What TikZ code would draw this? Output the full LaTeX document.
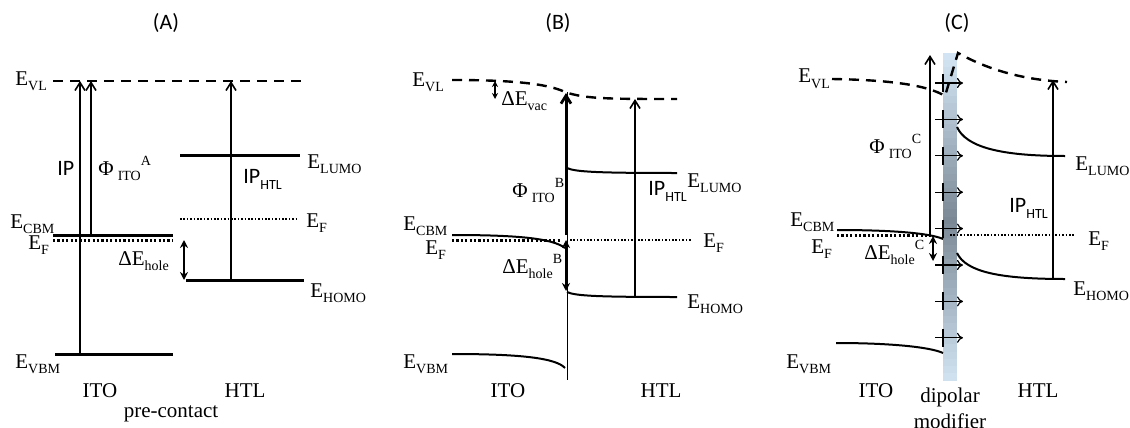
\documentclass[tikz,border=0pt]{standalone}
\usepackage{fontspec}
\setmainfont{Liberation Serif}
\newfontfamily\calib{Carlito}
\usetikzlibrary{arrows.meta,positioning}
\definecolor{barblue}{HTML}{D2E4F3}
\definecolor{bargrey}{HTML}{7A8794}
\newcommand\lowtxt[1]{\raisebox{-0.6ex}{\fontsize{7}{7}\selectfont #1}}
\newcommand\hightxt[1]{\raisebox{1ex}{\fontsize{7}{7}\selectfont #1}}
\tikzset{
  level/.style={line width=1.5pt},
  band/.style={line width=1pt},
  vac/.style={line width=1.2pt,dash pattern=on 5pt off 3.5pt},
  fermi/.style={line width=1.5pt,dash pattern=on 1.1pt off 1.1pt},
  fermithin/.style={line width=0.6pt,dash pattern=on 0.8pt off 0.9pt},
  rise/.style={-{Straight Barb[length=4pt,width=5pt]},line width=0.8pt},
  gap/.style={{Stealth[length=4pt,width=4pt]}-{Stealth[length=4pt,width=4pt]},line width=1pt},
  dipole/.style={-{To[length=3pt,width=5pt]},line width=0.6pt},
  lbl/.style={inner sep=0pt,anchor=base west,font=\fontsize{10.5}{12}\selectfont},
  sanslbl/.style={lbl,font=\calib\fontsize{11}{12}\selectfont},
  side/.style={inner sep=0pt,anchor=base,font=\fontsize{10.5}{12}\selectfont},
  ttl/.style={inner sep=0pt,font=\calib\fontsize{11}{13}\selectfont}
}
\begin{document}
\begin{tikzpicture}[x=0.5pt,y=-0.5pt]
  \useasboundingbox (0,0) rectangle (1130,428);
  % panel titles
  \node[ttl] (ttlA) at (166,23) {(A)};
  \node[ttl] (ttlB) at (558,23) {(B)};
  \node[ttl] (ttlC) at (957,23) {(C)};

  % (A) pre-contact
  \draw[vac] (53,81) -- (307,81);
  \draw[level] (53,235) -- (173,235);
  \draw[fermi] (53,240) -- (173,240);
  \draw[level] (55,354) -- (173,354);
  \draw[level] (180,155) -- (300,155);
  \draw[fermithin] (180,219) -- (298,219);
  \draw[level] (186,280) -- (304,280);
  \coordinate (ipA0) at (80,354);  \coordinate (ipA1) at (80,81);
  \coordinate (phA0) at (91,235);  \coordinate (phA1) at (91,81);
  \coordinate (htA0) at (231,280); \coordinate (htA1) at (231,81);
  \coordinate (hoA0) at (184,240); \coordinate (hoA1) at (184,280);
  \draw[rise] (ipA0) -- (ipA1);
  \draw[rise] (phA0) -- (phA1);
  \draw[rise] (htA0) -- (htA1);
  \draw[gap] (hoA0) -- (hoA1);
  \node[lbl] (vlA) at (15,85) {E\lowtxt{VL}};
  \node[lbl] (cbmA) at (10,228) {E\lowtxt{CBM}};
  \node[lbl] (efA) at (28,249) {E\lowtxt{F}};
  \node[lbl] (vbmA) at (15,368) {E\lowtxt{VBM}};
  \node[sanslbl] (ipA) at (57,175) {IP};
  \node[lbl] (phiA) at (98,175) {Φ\hspace{2pt}\lowtxt{ITO}\hightxt{A}};
  \node[lbl] (dhA) at (118,265) {ΔE\lowtxt{hole}};
  \node[lbl] (lumoA) at (307,168) {E\lowtxt{LUMO}};
  \node[sanslbl] (iphA) at (243,183) {IP\lowtxt{HTL}};
  \node[lbl] (efhA) at (306,227) {E\lowtxt{F}};
  \node[lbl] (homoA) at (310,297) {E\lowtxt{HOMO}};
  \node[side] (itoA) at (100,397) {ITO};
  \node[side] (htlA) at (245,397) {HTL};
  \node[side] (preA) at (171,417) {pre-contact};

  % (B) contact
  \draw[vac] (452,80) .. controls (515,80) and (548,84) .. (565,92)
    .. controls (585,99) and (610,99) .. (677,99);
  \draw[band] (452,235) .. controls (515,235) and (552,238) .. (565,248);
  \draw[fermi] (452,240) -- (560,240);
  \draw[fermithin] (570,240) -- (692,240);
  \draw[band] (452,354) .. controls (520,354) and (556,358) .. (565,368);
  \draw[band] (567,168) .. controls (575,172) and (600,173) .. (677,173);
  \draw[band] (567,292) .. controls (575,296) and (600,297) .. (677,297);
  \coordinate (ifB0) at (567,92);  \coordinate (ifB1) at (567,380);
  \draw[line width=0.5pt] (ifB0) -- (ifB1);
  \coordinate (dvB0) at (495,81);  \coordinate (dvB1) at (495,99);
  \coordinate (phB0) at (566,235); \coordinate (phB1) at (566,93);
  \coordinate (hoB0) at (566,240); \coordinate (hoB1) at (566,291);
  \coordinate (htB0) at (635,297); \coordinate (htB1) at (635,99);
  \draw[{Stealth[length=3pt,width=3pt]}-{Stealth[length=3pt,width=3pt]},line width=0.8pt] (dvB0) -- (dvB1);
  \draw[rise,line width=1.4pt] (phB0) -- (phB1);
  \draw[gap] (hoB0) -- (hoB1);
  \draw[rise] (htB0) -- (htB1);
  \node[lbl] (vlB) at (412,86) {E\lowtxt{VL}};
  \node[lbl] (dvB) at (501,105) {ΔE\lowtxt{vac}};
  \node[lbl] (phiB) at (512,197) {Φ\hspace{2pt}\lowtxt{ITO}\hightxt{B}};
  \node[lbl] (cbmB) at (403,230) {E\lowtxt{CBM}};
  \node[lbl] (efB) at (425,254) {E\lowtxt{F}};
  \node[lbl] (dhB) at (502,273) {ΔE\lowtxt{hole}\hightxt{B}};
  \node[lbl] (vbmB) at (403,368) {E\lowtxt{VBM}};
  \node[lbl] (lumoB) at (687,187) {E\lowtxt{LUMO}};
  \node[sanslbl] (iphB) at (648,195) {IP\lowtxt{HTL}};
  \node[lbl] (efhB) at (703,247) {E\lowtxt{F}};
  \node[lbl] (homoB) at (687,308) {E\lowtxt{HOMO}};
  \node[side] (itoB) at (508,397) {ITO};
  \node[side] (htlB) at (661,397) {HTL};

  % (C) with dipolar modifier
  \foreach \i in {0,...,45}{
    \pgfmathtruncatemacro\mixv{100*(1-abs(\i-23)/23)}
    \fill[bargrey!\mixv!barblue] (943,{53+\i*327/46}) rectangle (957,{53+(\i+1)*327/46+0.6});
  }
  \draw[vac] (832,79) .. controls (890,80) and (927,85) .. (945,96) -- (958,53)
    .. controls (985,68) and (1020,80) .. (1067,82);
  \draw[band] (837,230) .. controls (890,230) and (930,233) .. (943,239);
  \draw[fermi] (837,235) -- (931,235);
  \draw[fermithin] (950,235) -- (1075,235);
  \draw[band] (836,343) .. controls (890,343) and (930,347) .. (943,353);
  \draw[band] (957,127) .. controls (966,147) and (1000,156) .. (1065,156);
  \draw[band] (957,253) .. controls (966,272) and (1000,279) .. (1065,279);
  \foreach \k in {0,...,7}{
    \draw[line width=0.6pt] (943,{83+36.4*\k-9}) -- (943,{83+36.4*\k+9});
    \draw[dipole] (935,{83+36.4*\k}) -- (963,{83+36.4*\k});
  }
  \coordinate (phC0) at (930,235); \coordinate (phC1) at (930,55);
  \coordinate (hoC0) at (933,236); \coordinate (hoC1) at (933,261);
  \coordinate (htC0) at (1053,279); \coordinate (htC1) at (1053,80);
  \draw[rise] (phC0) -- (phC1);
  \draw[gap] (hoC0) -- (hoC1);
  \draw[rise] (htC0) -- (htC1);
  \node[lbl] (vlC) at (798,83) {E\lowtxt{VL}};
  \node[lbl] (phiC) at (869,153) {Φ\hspace{2pt}\lowtxt{ITO}\hightxt{C}};
  \node[lbl] (cbmC) at (790,226) {E\lowtxt{CBM}};
  \node[lbl] (efC) at (811,253) {E\lowtxt{F}};
  \node[lbl] (dhC) at (864,259) {ΔE\lowtxt{hole}\hightxt{C}};
  \node[lbl] (vbmC) at (786,368) {E\lowtxt{VBM}};
  \node[sanslbl] (iphC) at (1009,212) {IP\lowtxt{HTL}};
  \node[lbl] (lumoC) at (1075,170) {E\lowtxt{LUMO}};
  \node[lbl] (efhC) at (1088,245) {E\lowtxt{F}};
  \node[lbl] (homoC) at (1073,295) {E\lowtxt{HOMO}};
  \node[side] (itoC) at (876,397) {ITO};
  \node[side] (dipC) at (950,402) {dipolar};
  \node[side] (modC) at (950,428) {modifier};
  \node[side] (htlC) at (1038,397) {HTL};
\end{tikzpicture}
\end{document}
